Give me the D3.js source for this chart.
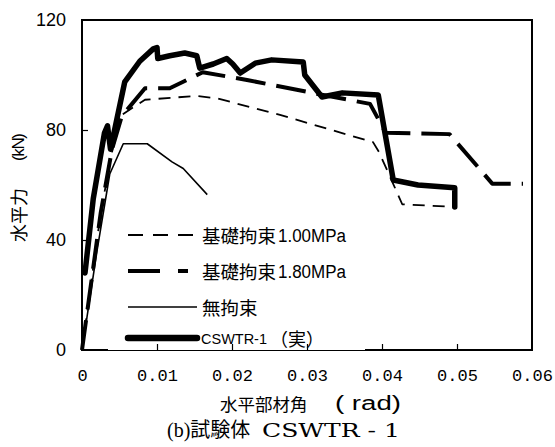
<!DOCTYPE html>
<html>
<head>
<meta charset="utf-8">
<script src="https://cdn.jsdelivr.net/npm/d3@7"></script>
<style>
  body { margin: 0; background: #fff; }
  svg { display: block; }
</style>
</head>
<body>
<svg id="chart" width="555" height="447"></svg>
<script>
// drift angle (rad), horizontal force (kN)
const base100 = [[0, 0], [0.0025, 50], [0.004, 72], [0.0053, 85.5], [0.0084, 91], [0.0153, 92.4], [0.018, 91.5],
  [0.0264, 85.5], [0.0388, 75.6], [0.0396, 72], [0.0427, 53], [0.0497, 52]];
const base180 = [[0, 0], [0.0025, 50], [0.004, 73], [0.0053, 85], [0.0084, 95.2], [0.0117, 95.2], [0.0161, 101],
  [0.022, 98.2], [0.0307, 93.5], [0.0384, 89.5], [0.0405, 79], [0.049, 78.5], [0.0547, 60.5], [0.0588, 60.5]];
const noRestraint = [[0, 0], [0.002, 36], [0.0037, 64], [0.0055, 75], [0.0087, 75], [0.012, 68.4], [0.0135, 66], [0.0167, 56.5]];
const cswtr1 = [[0.0004, 28], [0.0015, 55], [0.003, 79], [0.0034, 81.5], [0.0038, 73], [0.0057, 97.5], [0.0077, 105],
  [0.0095, 109.5], [0.01, 110], [0.0101, 106], [0.0117, 107], [0.0137, 108], [0.0153, 107], [0.0157, 102.5],
  [0.0175, 104], [0.0193, 106], [0.0201, 104], [0.0211, 100.7], [0.0231, 104.3], [0.0253, 105.5], [0.0295, 104.7],
  [0.0297, 100], [0.032, 92], [0.0347, 93.5], [0.0395, 92.7], [0.0415, 61.8], [0.0448, 60], [0.0497, 59], [0.0497, 52]];

const xTicks = [0, 0.01, 0.02, 0.03, 0.04, 0.05, 0.06];
const yTicks = [0, 40, 80, 120];
const legendNames = ['基礎拘束', '基礎拘束', '無拘束', 'CSWTR-1'];
const legendSuffix = ['1.00MPa', '1.80MPa', '', '（実）'];

const svg = d3.select('#chart');
const plotLeft = 82, plotRight = 532, plotTop = 20, plotBottom = 350;

const x = d3.scaleLinear().domain([0, 0.06]).range([plotLeft, plotRight]);
const y = d3.scaleLinear().domain([0, 120]).range([plotBottom, plotTop]);

const line = d3.line().x(d => x(d[0])).y(d => y(d[1]));

// styles for each series, same order as legend
const styles = [
  { data: base100, width: 1.8, dash: '12,8' },
  { data: base180, width: 4, dash: '30,11' },
  { data: noRestraint, width: 1.6, dash: null },
  { data: cswtr1, width: 5.5, dash: null }
];

// frame
svg.append('rect')
  .attr('x', plotLeft).attr('y', plotTop)
  .attr('width', plotRight - plotLeft).attr('height', plotBottom - plotTop)
  .attr('fill', 'none').attr('stroke', '#000').attr('stroke-width', 2);

styles.forEach(s => {
  svg.append('path')
    .datum(s.data)
    .attr('d', line)
    .attr('fill', 'none')
    .attr('stroke', '#000')
    .attr('stroke-width', s.width)
    .attr('stroke-linejoin', 'round')
    .attr('stroke-linecap', s.width > 5 ? 'round' : 'butt')
    .attr('stroke-dasharray', s.dash);
});

// legend (white box sits over part of the bottom frame line)
svg.append('rect')
  .attr('x', 108).attr('y', 222)
  .attr('width', 257).attr('height', 128)
  .attr('fill', '#fff');

const rowY = [235, 271, 307, 338];
const sampleEnd = [193, 188, 197, 197];
const sampleDash = ['15,10', '32,18', null, null];
styles.forEach((s, i) => {
  svg.append('line')
    .attr('x1', 128).attr('x2', sampleEnd[i])
    .attr('y1', rowY[i]).attr('y2', rowY[i])
    .attr('stroke', '#000')
    .attr('stroke-width', i === 3 ? 6.5 : s.width)
    .attr('stroke-linecap', i === 3 ? 'round' : 'butt')
    .attr('stroke-dasharray', sampleDash[i]);
});

[0, 1, 2].forEach(i => {
  svg.append('text')
    .attr('x', 202).attr('y', rowY[i])
    .attr('dominant-baseline', 'central')
    .attr('font-family', '"Noto Sans CJK JP", sans-serif')
    .attr('font-size', 18.5)
    .text(legendNames[i]);
});
[0, 1].forEach(i => {
  svg.append('text')
    .attr('x', 278).attr('y', rowY[i] + 6.5)
    .attr('font-family', '"Liberation Sans", Arial, sans-serif')
    .attr('font-size', 18)
    .attr('textLength', 68)
    .attr('lengthAdjust', 'spacingAndGlyphs')
    .text(legendSuffix[i]);
});
svg.append('text')
  .attr('x', 201).attr('y', rowY[3] + 5.5)
  .attr('font-family', '"Liberation Sans", Arial, sans-serif')
  .attr('font-size', 15)
  .attr('textLength', 66)
  .attr('lengthAdjust', 'spacingAndGlyphs')
  .text(legendNames[3]);
svg.append('text')
  .attr('x', 270).attr('y', rowY[3])
  .attr('dominant-baseline', 'central')
  .attr('font-family', '"Noto Sans CJK JP", sans-serif')
  .attr('font-size', 18)
  .text(legendSuffix[3]);

// axes: inner ticks drawn on top of the legend box
const xAxis = svg.append('g')
  .attr('transform', `translate(0,${plotBottom})`)
  .call(d3.axisBottom(x).tickValues(xTicks).tickSizeInner(-6).tickSizeOuter(0).tickPadding(19)
    .tickFormat(d => d === 0 ? '0' : d3.format('.2f')(d)));
xAxis.select('.domain').remove();
xAxis.selectAll('.tick line').attr('stroke-width', 1.2);
xAxis.selectAll('.tick text')
  .attr('font-family', '"Liberation Mono", monospace')
  .attr('font-size', 17)
  .attr('fill', '#000');
xAxis.selectAll('.tick').filter(d => d === 0 || d === 0.06).select('line').remove();

const yAxis = svg.append('g')
  .attr('transform', `translate(${plotLeft},0)`)
  .call(d3.axisLeft(y).tickValues(yTicks).tickSizeInner(-6).tickSizeOuter(0).tickPadding(16));
yAxis.select('.domain').remove();
yAxis.selectAll('.tick line').attr('stroke-width', 1.2);
yAxis.selectAll('.tick text')
  .attr('font-family', '"Liberation Sans", Arial, sans-serif')
  .attr('font-size', 18)
  .attr('fill', '#000');
yAxis.selectAll('.tick').filter(d => d === 0 || d === 120).select('line').remove();

// axis titles
svg.append('text')
  .attr('x', 220).attr('y', 403)
  .attr('dominant-baseline', 'central')
  .attr('font-family', '"Noto Sans CJK JP", sans-serif')
  .attr('font-size', 17.5)
  .text('水平部材角');
svg.append('text')
  .attr('x', 335).attr('y', 410)
  .attr('font-family', '"Liberation Sans", Arial, sans-serif')
  .attr('font-size', 20)
  .attr('textLength', 66)
  .attr('lengthAdjust', 'spacingAndGlyphs')
  .text('( rad)');

const yTitle = svg.append('g').attr('transform', 'translate(18,0) rotate(-90)');
yTitle.append('text')
  .attr('x', -242).attr('y', 0)
  .attr('dominant-baseline', 'central')
  .attr('font-family', '"Noto Sans CJK JP", sans-serif')
  .attr('font-size', 18)
  .attr('fill', '#000')
  .text('水平力');
yTitle.append('text')
  .attr('x', -161).attr('y', 6)
  .attr('font-family', '"Liberation Sans", Arial, sans-serif')
  .attr('font-size', 17)
  .attr('textLength', 28)
  .attr('lengthAdjust', 'spacing')
  .text('(kN)');

// caption
svg.append('text')
  .attr('x', 167).attr('y', 437)
  .attr('font-family', '"Liberation Serif", "Noto Sans CJK JP", serif')
  .attr('font-size', 20)
  .text('(b)試験体');
svg.append('text')
  .attr('x', 262).attr('y', 437)
  .attr('font-family', '"DejaVu Serif", "Liberation Serif", serif')
  .attr('font-size', 18.5)
  .attr('textLength', 138)
  .attr('lengthAdjust', 'spacingAndGlyphs')
  .text('CSWTR - 1');
</script>
</body>
</html>
